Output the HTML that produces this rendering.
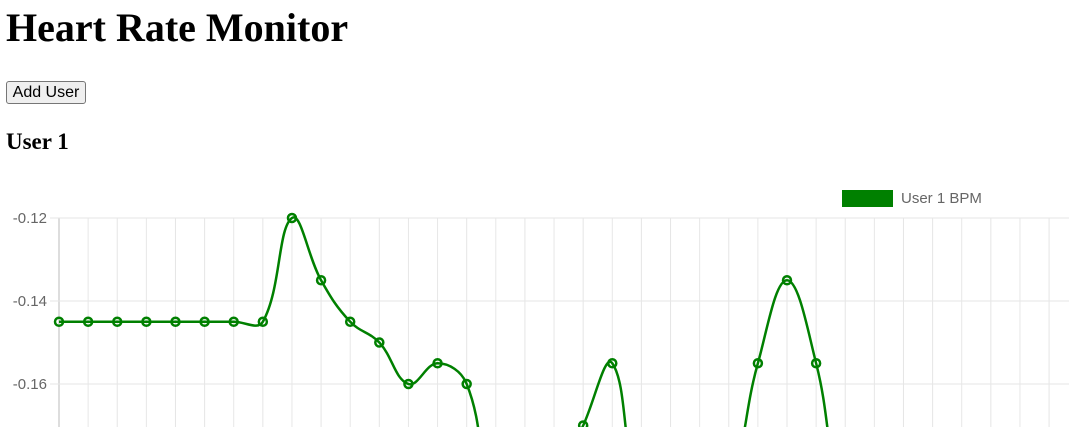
<!DOCTYPE html>
<html style="overflow:hidden"><head><meta charset="utf-8"><style>
body{margin:0;width:1069px;height:427px;overflow:hidden;background:#fff;font-family:"Liberation Serif",serif;position:relative;}
h1{position:absolute;left:6px;top:4px;margin:0;font-size:40px;font-weight:bold;}
button{position:absolute;left:6px;top:81px;width:80px;height:23px;font:16px "Liberation Sans",sans-serif;padding:0;background:#efefef;border:1px solid #767676;border-radius:3px;}
h3{position:absolute;left:6px;top:129px;margin:0;font-size:23px;font-weight:bold;}
svg{position:absolute;left:0;top:0;}
</style></head><body>
<h1>Heart Rate Monitor</h1>
<button>Add User</button>
<h3>User 1</h3>
<svg id="c" width="1069" height="427"></svg>
<script>
const values=[-0.145,-0.145,-0.145,-0.145,-0.145,-0.145,-0.145,-0.145,-0.12,-0.135,-0.145,-0.15,-0.16,-0.155,-0.16,-0.19,-0.19,-0.185,-0.17,-0.155,-0.19,-0.19,-0.19,-0.185,-0.155,-0.135,-0.155,-0.19,-0.19,-0.19,-0.19,-0.19,-0.19,-0.19,-0.19];
const yTicks=[-0.12,-0.14,-0.16];
const yLabels=["-0.12","-0.14","-0.16"];
const svg=document.getElementById('c');const NS='http://www.w3.org/2000/svg';
const x=i=>59+i*29.12;const y=v=>218+(-0.12-v)/0.02*83;
function mk(t,a,p){const e=document.createElementNS(NS,t);for(const k in a)e.setAttribute(k,a[k]);(p||svg).appendChild(e);return e;}
const clip=mk('clipPath',{id:'cl'});mk('rect',{x:0,y:180,width:1069,height:247},clip);
for(let i=0;i<values.length;i++){const g=mk('line',{x1:x(i),x2:x(i),y1:218,y2:427,stroke:i==0?'#bbb':'#e6e6e6','stroke-width':1});
}
yTicks.forEach((t,k)=>{const g=mk('line',{x1:50,x2:1069,y1:y(t),y2:y(t),stroke:'#e6e6e6'});

const tx=mk('text',{x:47,y:y(t)+5,'text-anchor':'end','font-size':15,fill:'#666','font-family':'Liberation Sans, sans-serif'});tx.textContent=yLabels[k];
});
const P=values.map((v,i)=>[x(i),y(v)]);const T=0.4;
let d=`M${P[0][0]},${P[0][1]}`;
function cp(i){const p=P[Math.max(i-1,0)],c=P[i],n=P[Math.min(i+1,P.length-1)];
const d01=Math.hypot(c[0]-p[0],c[1]-p[1]),d12=Math.hypot(n[0]-c[0],n[1]-c[1]);
let fa=d01/(d01+d12||1),fb=d12/(d01+d12||1);fa*=T;fb*=T;
return [[c[0]-fa*(n[0]-p[0]),c[1]-fa*(n[1]-p[1])],[c[0]+fb*(n[0]-p[0]),c[1]+fb*(n[1]-p[1])]];}
const C=P.map((_,i)=>cp(i));
for(let i=1;i<P.length;i++){d+=` C${C[i-1][1][0]},${C[i-1][1][1]} ${C[i][0][0]},${C[i][0][1]} ${P[i][0]},${P[i][1]}`;}
const g=mk('g',{'clip-path':'url(#cl)'});
const line=mk('path',{d:d,fill:'none',stroke:'#008000','stroke-width':2.5},g);

P.forEach(p=>{const c=mk('circle',{cx:p[0],cy:p[1],r:4,fill:'none',stroke:'#008000','stroke-width':2.5},g);
});
const lb=mk('rect',{x:842,y:190,width:51,height:17,fill:'#008000'});

const lt=mk('text',{x:901,y:203,'font-size':15,fill:'#666','font-family':'Liberation Sans, sans-serif'});lt.textContent='User 1 BPM';

</script>
</body></html>
